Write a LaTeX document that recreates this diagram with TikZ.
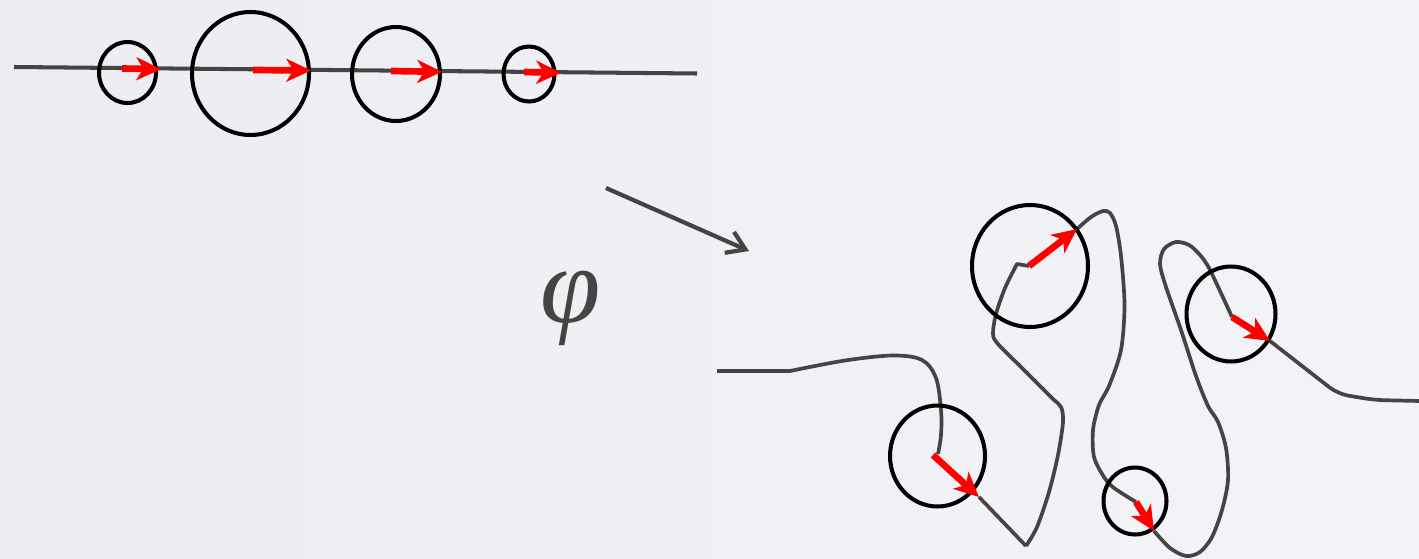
\documentclass[tikz,border=0pt]{standalone}
\usepackage{fontspec}
\newfontfamily\phifont{Liberation Serif}
\usetikzlibrary{arrows.meta,shapes.geometric}
\definecolor{bgL}{RGB}{236,237,241}
\definecolor{bgR}{RGB}{243,244,248}
\definecolor{curvecol}{RGB}{68,68,68}
\definecolor{redarr}{RGB}{255,0,0}
\begin{document}
\begin{tikzpicture}[x=0.02cm,y=-0.02cm,
  ring/.style={draw=black, line width=2.3pt, ellipse, inner sep=0pt, outer sep=0pt},
  wire/.style={draw=curvecol, line width=2.1pt, line join=round},
  redarrow/.style={draw=redarr, line width=3.8pt, -{Stealth[length=14pt,width=13pt,inset=4pt]}},
  maparrow/.style={draw=curvecol, line width=2.4pt, -{Straight Barb[length=10pt,width=13pt]}}]
\useasboundingbox (0,0) rectangle (1419,558);
\fill[left color=bgL,right color=bgR] (0,0) rectangle (1419,558);

% ---------- top row ----------
\coordinate (l0) at (14,67);
\coordinate (l1) at (697,73.5);
\draw[wire, line width=2.3pt] (l0) -- (l1);

\node[ring, minimum width=1.14cm, minimum height=1.22cm] (c1) at (127.5,72.5) {};
\node[ring, minimum width=2.34cm, minimum height=2.46cm] (c2) at (250.5,73.5) {};
\node[ring, minimum width=1.76cm, minimum height=1.88cm] (c3) at (396,74) {};
\node[ring, minimum width=1.02cm, minimum height=1.10cm] (c4) at (529,74) {};

\coordinate (t1s) at (122,68.5); \coordinate (t1e) at (161,69.2);
\coordinate (t2s) at (253,70);   \coordinate (t2e) at (311,70.5);
\coordinate (t3s) at (391,71);   \coordinate (t3e) at (442,71.8);
\coordinate (t4s) at (524,72);   \coordinate (t4e) at (561,72.8);
\draw[redarrow] (t1s) -- (t1e);
\draw[redarrow] (t2s) -- (t2e);
\draw[redarrow] (t3s) -- (t3e);
\draw[redarrow] (t4s) -- (t4e);

% ---------- map arrow and label ----------
\coordinate (m0) at (606,188);
\coordinate (m1) at (749,251);
\draw[maparrow] (m0) -- (m1);
\node[text=curvecol, inner sep=0pt, font=\phifont\itshape\fontsize{62}{62}\selectfont] (phi) at (571,308) {φ};

% ---------- bottom curve ----------
\coordinate (b0) at (717,371);
\coordinate (b1) at (790,371);
\coordinate (r1s) at (933,455); \coordinate (r1e) at (979,497);
\coordinate (r2s) at (1029,266); \coordinate (r2e) at (1077,229);
\coordinate (r3s) at (1136,502); \coordinate (r3e) at (1154,531);
\coordinate (r4s) at (1232,317); \coordinate (r4e) at (1270,341);
\coordinate (bend) at (1420,401);

\draw[wire] (b0) -- (b1)
  plot[smooth,tension=0.55] coordinates {(790,371) (845,360.5) (893,355.5) (922,360) (936,378) (941,410) (941,435) (938,454)};
\draw[wire] (r1e) -- (1026,546)
  plot[smooth,tension=0.5] coordinates {(1026,546) (1037,527) (1049,492) (1058,455) (1063,422) (1061,407) (1052,398) (1022,368) (998,344) (993,334) (996,314) (1005,288) (1017,264)} -- (r2s);
\draw[wire] (r2e)
  plot[smooth,tension=0.5] coordinates {(1077,229) (1091,217) (1103,211) (1110,213) (1116,226) (1121,256) (1124.5,305) (1121,350) (1109,386) (1099,405) (1093,430) (1094,457) (1104,477) (1114,488) (1136,502)};
\draw[wire] (r3e)
  plot[smooth,tension=0.5] coordinates {(1154,531) (1170,548) (1186,556) (1200,552) (1212,537) (1222,510) (1228,480) (1226,448) (1218,422) (1208,406) (1196,376) (1181,330) (1166,287) (1160,264) (1164,249) (1176,242) (1189,245) (1200,255) (1210,270) (1232,317)};
\draw[wire, rounded corners=6pt] (r4e) -- (1338,394) -- (1375,400) -- (bend);

\node[ring, minimum width=1.90cm, minimum height=2.02cm] (cA) at (937.5,456) {};
\node[ring, minimum width=2.32cm, minimum height=2.44cm] (cB) at (1030,266) {};
\node[ring, minimum width=1.78cm, minimum height=1.90cm] (cC) at (1231,314) {};
\node[ring, minimum width=1.26cm, minimum height=1.34cm] (cD) at (1135,501) {};

\draw[redarrow] (r1s) -- (r1e);
\draw[redarrow] (r2s) -- (r2e);
\draw[redarrow] (r3s) -- (r3e);
\draw[redarrow] (r4s) -- (r4e);
\end{tikzpicture}
\end{document}
